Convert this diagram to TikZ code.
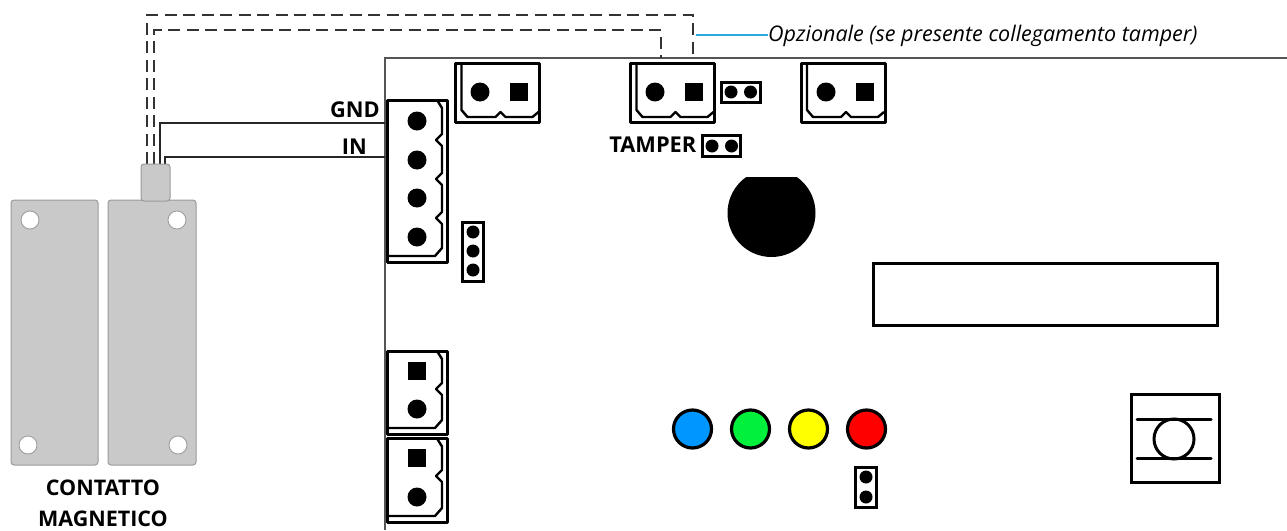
\documentclass[tikz,border=0pt]{standalone}
\usepackage{fontspec}
\setmainfont{Open Sans}
\definecolor{plate}{HTML}{C9C9C9}
\definecolor{plateedge}{HTML}{9A9A9A}
\definecolor{boardline}{HTML}{555555}
\definecolor{leadblue}{HTML}{29ABE2}
\definecolor{ledblue}{HTML}{0096FF}
\definecolor{ledgreen}{HTML}{00F03C}
\definecolor{ledyellow}{HTML}{FFFF00}
\definecolor{ledred}{HTML}{FF0000}
\tikzset{
  x=1pt,y=-1pt,
  platebox/.style={draw=plateedge,fill=plate,line width=1pt,rounded corners=3pt},
  hole/.style={circle,draw=plateedge,fill=white,line width=.8pt,inner sep=0pt,minimum size=18pt},
  outline/.style={draw=black,line width=3pt,line join=round},
  innerline/.style={draw=black,line width=2.4pt,line join=round},
  pinc/.style={circle,fill=black,inner sep=0pt,minimum size=19pt},
  pins/.style={rectangle,fill=black,inner sep=0pt,minimum size=18.5pt},
  dot/.style={circle,fill=black,inner sep=0pt,minimum size=13pt},
  headbox/.style={rectangle,draw=black,line width=3pt,fill=white,inner sep=0pt},
  led/.style={circle,draw=black,line width=3.2pt,inner sep=0pt,minimum size=38pt},
  wire/.style={draw=black!85,line width=1.8pt},
  dashwire/.style={draw=black!80,line width=1.6pt,dash pattern=on 12pt off 6.5pt},
  boldlabel/.style={font=\fontsize{21.8}{26}\selectfont\bfseries,inner sep=0pt},
  hconn/.pic={
    \path[outline] (0,0) rectangle (84,59);
    \path[innerline] (6,0) -- (6,47) -- (12,54) -- (40,54) -- (45,49) -- (50,54) -- (77,54) -- (83,49);
  },
}
\newcommand{\vnotched}[3]{% top y, height, list of notch y
  \path[outline] (387,#1) rectangle (447,#1+#2);
  \path[innerline] (437,#1) -- (442,#1+8)
    \foreach \n in {#3} { -- (442,\n-6) -- (436,\n) -- (442,\n+6) }
    -- (442,#1+#2-14) -- (435,#1+#2-6) -- (387,#1+#2-6);
}
\begin{document}
\begin{tikzpicture}
\useasboundingbox (0,0) rectangle (1287,530);
% board
\coordinate (bbl) at (385,530);
\coordinate (btl) at (385,58);
\coordinate (btr) at (1287,58);
\draw[boardline,line width=1.3pt] (bbl) -- (btl) -- (btr);

% coordinates for wires
\coordinate (capA) at (147,164);
\coordinate (capB) at (154,164);
\coordinate (capC) at (160,164);
\coordinate (capD) at (165,164);
\coordinate (gndEnd) at (385,123);
\coordinate (inEnd) at (385,157);
\coordinate (tampA) at (693,58);
\coordinate (tampB) at (661,58);

\draw[dashwire] (capA) -- (147,15) -- (693,15) -- (tampA);
\draw[dashwire] (capB) -- (154,30) -- (661,30) -- (tampB);
\draw[wire] (capC) -- (160,123) -- (gndEnd);
\draw[wire] (capD) -- (165,157) -- (inEnd);

% magnetic contact
\node[platebox,minimum width=87pt,minimum height=265pt,inner sep=0pt] (plateL) at (54.5,332.5) {};
\node[platebox,minimum width=88pt,minimum height=265pt,inner sep=0pt] (plateR) at (152,332.5) {};
\node[platebox,minimum width=29pt,minimum height=37pt,inner sep=0pt] (cap) at (155.5,182.5) {};
\node[hole] (h1) at (30,220) {};
\node[hole] (h2) at (28,445) {};
\node[hole] (h3) at (177,220) {};
\node[hole] (h4) at (178,445) {};
\node[boldlabel,align=center,font=\fontsize{21.5}{30.5}\selectfont\bfseries] (contatto) at (103,503.5) {CONTATTO\\MAGNETICO};

% wire labels
\node[boldlabel,anchor=east] (gnd) at (380,110) {GND};
\node[boldlabel,anchor=east] (in) at (367,147) {IN};

% optional lead
\node[font=\fontsize{21.5}{26}\selectfont\itshape,inner sep=0pt,anchor=west] (opt) at (768,36) {Opzionale (se presente collegamento tamper)};
\coordinate (leadstart) at (696,35);
\draw[leadblue,line width=1.3pt] (leadstart) -- (opt.west |- leadstart);

% horizontal connectors
\pic at (455.5,63) {hconn};
\node[pinc] (j1c) at (480,92) {};
\node[pins] (j1s) at (519,92) {};
\pic at (630.5,63) {hconn};
\node[pinc] (j2c) at (655,92) {};
\node[pins] (j2s) at (694,92) {};
\pic at (801,63) {hconn};
\node[pinc] (j3c) at (826,92) {};
\node[pins] (j3s) at (865,92) {};

% vertical connectors
\vnotched{100}{162}{140,179,218}
\node[pinc] (p1) at (417,121) {};
\node[pinc] (p2) at (417,160) {};
\node[pinc] (p3) at (417,198) {};
\node[pinc] (p4) at (417,237) {};
\vnotched{351}{83}{389}
\node[pins] (v1s) at (417,371) {};
\node[pinc] (v1c) at (417,409) {};
\vnotched{438.5}{83.5}{476}
\node[pins] (v2s) at (417,458) {};
\node[pinc] (v2c) at (417,497) {};

% headers
\node[headbox,minimum width=39pt,minimum height=20pt] (hd1) at (740.5,92) {};
\node[dot] at (731,92) {};
\node[dot] at (750.5,92) {};
\node[headbox,minimum width=38pt,minimum height=21pt] (hd2) at (721,145.5) {};
\node[dot] at (712,146) {};
\node[dot] at (731.5,146) {};
\node[boldlabel,anchor=east] (tamper) at (696.5,145) {TAMPER};
\node[headbox,minimum width=21pt,minimum height=59pt] (hd3) at (473,251.5) {};
\node[dot] at (473,232) {};
\node[dot] at (473,251) {};
\node[dot] at (473,270) {};
\node[headbox,minimum width=21pt,minimum height=40pt] (hd4) at (866,487) {};
\node[dot] at (866,477) {};
\node[dot] at (866,497) {};

% buzzer, truncated at the top
\begin{scope}
  \clip (700,177) rectangle (840,270);
  \node[circle,fill=black,inner sep=0pt,minimum size=88pt] (buzzer) at (771.5,213) {};
\end{scope}

% display
\node[rectangle,draw=black,line width=3pt,minimum width=344pt,minimum height=62pt,inner sep=0pt] (display) at (1045,294) {};

% LEDs
\node[led,fill=ledblue] (ledb) at (692.5,429) {};
\node[led,fill=ledgreen] (ledg) at (750.5,429) {};
\node[led,fill=ledyellow] (ledy) at (808.5,429) {};
\node[led,fill=ledred] (ledr) at (866.5,429) {};

% push button
\node[rectangle,draw=black,line width=3pt,minimum width=88pt,minimum height=88pt,inner sep=0pt] (btn) at (1175,438) {};
\node[circle,draw=black,line width=3pt,minimum size=40pt,inner sep=0pt] (btnc) at (1174,439) {};
\draw[black,line width=3pt,line cap=round] (1137,419) -- (1211,419);
\draw[black,line width=3pt,line cap=round] (1137,458) -- (1211,458);
\end{tikzpicture}
\end{document}
